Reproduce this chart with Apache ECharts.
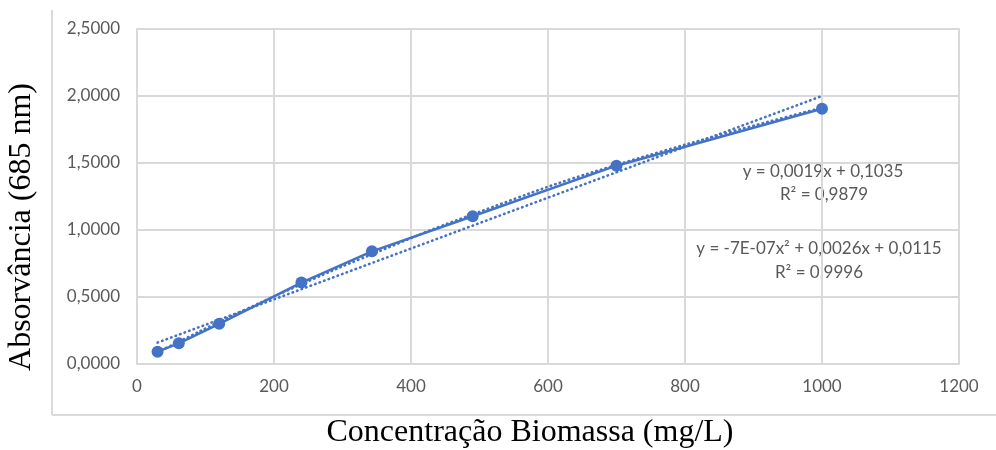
<!DOCTYPE html>
<html>
<head>
<meta charset="utf-8">
<script src="https://cdn.jsdelivr.net/npm/echarts@6/dist/echarts.min.js"></script>
<style>html,body{margin:0;padding:0;background:#fff}#c{width:996px;height:450px}</style>
</head>
<body>
<div id="c"></div>
<script>
// Data
const concentration = [30, 61, 120, 240, 343, 490, 700, 1000];
const absorbance = [0.092, 0.154, 0.300, 0.608, 0.841, 1.103, 1.480, 1.905];
// Linear trendline (dotted), endpoints
const linTrendX = [30, 1000];
const linTrendY = [0.160, 2.000];
// Polynomial trendline (dotted) at the data x positions
const polyTrendX = [30, 61, 120, 240, 343, 490, 700, 1000];
const polyTrendY = [0.089, 0.166, 0.314, 0.595, 0.819, 1.117, 1.486, 1.912];
// Trendline labels
const linEq = 'y = 0,0019x + 0,1035';
const linR2 = 'R² = 0,9879';
const polyEq = 'y = -7E-07x² + 0,0026x + 0,0115';
const polyR2 = 'R² = 0,9996';
const xTitle = 'Concentração Biomassa (mg/L)';
const yTitle = 'Absorvância (685 nm)';

const blue = '#4472C4';
const gray = '#595959';
const gridGray = '#d9d9d9';
const tickFont = 'Lato, "Open Sans", sans-serif';
const titleFont = '32px "Liberation Serif", "Times New Roman", serif';

const zip = (a, b) => a.map((v, i) => [v, b[i]]);
const dotted = {color: blue, width: 2.6, type: [0.5, 4.3], cap: 'round'};

const chart = echarts.init(document.getElementById('c'), null, {renderer: 'canvas'});
chart.setOption({
  animation: false,
  backgroundColor: '#fff',
  grid: {left: 137, right: 37, top: 29, bottom: 86, show: true, borderColor: gridGray, borderWidth: 2},
  xAxis: {
    type: 'value', min: 0, max: 1200, interval: 200,
    axisLine: {show: false}, axisTick: {show: false},
    axisLabel: {color: gray, fontFamily: tickFont, fontSize: 17, margin: 14,
      formatter: v => String(v)},
    splitLine: {lineStyle: {color: gridGray, width: 2}}
  },
  yAxis: {
    type: 'value', min: 0, max: 2.5, interval: 0.5,
    axisLine: {show: false}, axisTick: {show: false},
    axisLabel: {color: gray, fontFamily: tickFont, fontSize: 17, margin: 17,
      formatter: v => v.toFixed(4).replace('.', ',')},
    splitLine: {lineStyle: {color: gridGray, width: 2}}
  },
  series: [
    {type: 'line', data: zip(linTrendX, linTrendY), showSymbol: false, z: 2, lineStyle: dotted},
    {type: 'line', data: zip(polyTrendX, polyTrendY), showSymbol: false, smooth: true, z: 2, lineStyle: dotted},
    {
      type: 'line', data: zip(concentration, absorbance), z: 3,
      symbol: 'circle', symbolSize: 12,
      itemStyle: {color: blue},
      lineStyle: {color: blue, width: 2.5}
    }
  ],
  graphic: [
    {type: 'line', shape: {x1: 52, y1: 10, x2: 52, y2: 415}, style: {stroke: gridGray, lineWidth: 2}},
    {type: 'line', shape: {x1: 52, y1: 415, x2: 996, y2: 415}, style: {stroke: gridGray, lineWidth: 2}},
    {type: 'text', x: 530, y: 433, style: {text: xTitle, fill: '#000', font: titleFont, textAlign: 'center', textVerticalAlign: 'middle'}},
    {type: 'text', x: 22, y: 227, rotation: Math.PI / 2, style: {text: yTitle, fill: '#000', font: titleFont, textAlign: 'center', textVerticalAlign: 'middle'}},
    {type: 'text', x: 823, y: 172, style: {text: linEq, fill: gray, font: '17px ' + tickFont, textAlign: 'center', textVerticalAlign: 'middle'}},
    {type: 'text', x: 824, y: 195, style: {text: linR2, fill: gray, font: '17px ' + tickFont, textAlign: 'center', textVerticalAlign: 'middle'}},
    {type: 'text', x: 819, y: 249, style: {text: polyEq, fill: gray, font: '17px ' + tickFont, textAlign: 'center', textVerticalAlign: 'middle'}},
    {type: 'text', x: 819, y: 273, style: {text: polyR2, fill: gray, font: '17px ' + tickFont, textAlign: 'center', textVerticalAlign: 'middle'}}
  ]
});
</script>
</body>
</html>
